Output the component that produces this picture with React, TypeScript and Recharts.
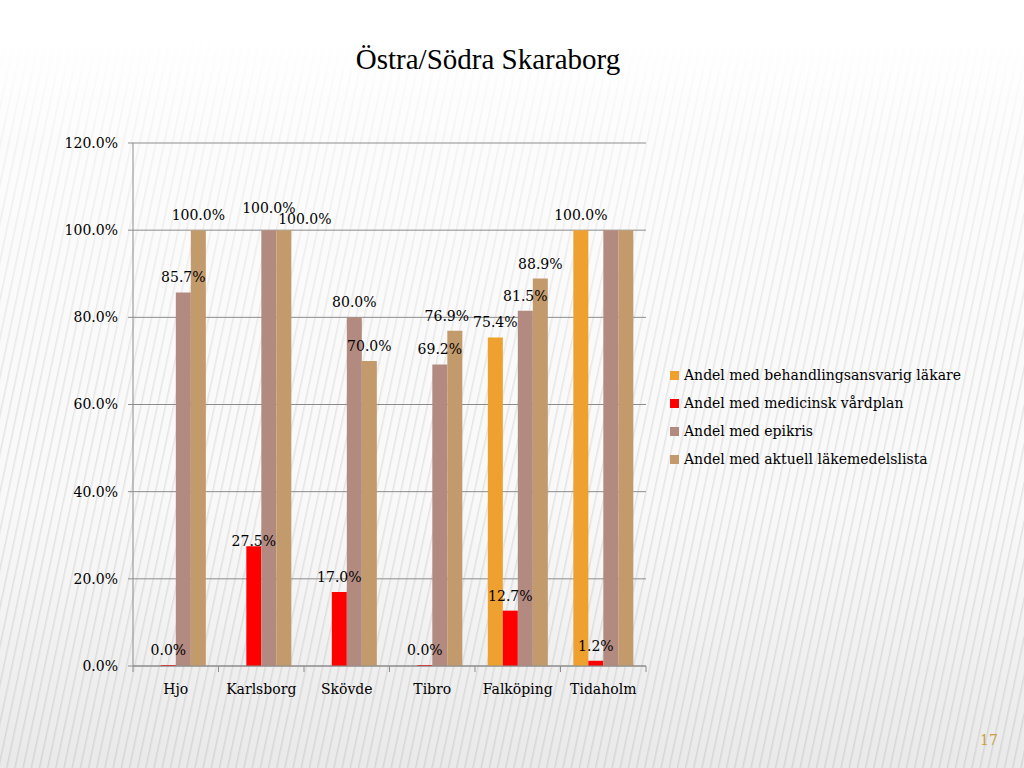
import React from 'react';
import { BarChart, Bar, XAxis, YAxis, CartesianGrid, LabelList } from 'recharts';

const categories = ['Hjo', 'Karlsborg', 'Skövde', 'Tibro', 'Falköping', 'Tidaholm'];
const behandlingsansvarig = [null, null, null, null, 75.4, 100.0];
const vardplan = [0.0, 27.5, 17.0, 0.0, 12.7, 1.2];
const epikris = [85.7, 100.0, 80.0, 69.2, 81.5, 100.0];
const lakemedelslista = [100.0, 100.0, 70.0, 76.9, 88.9, 100.0];
const yTicks = [0, 20, 40, 60, 80, 100, 120];

const SERIES = [
  { key: 'behandl', name: 'Andel med behandlingsansvarig läkare', color: '#EFA12F' },
  { key: 'vardplan', name: 'Andel med medicinsk vårdplan', color: '#FF0000' },
  { key: 'epikris', name: 'Andel med epikris', color: '#B38A80' },
  { key: 'lakemedel', name: 'Andel med aktuell läkemedelslista', color: '#C39A6B' },
];

// label nudges, like the hand-moved labels in the original slide
const LABEL_NUDGE: Record<string, { dx?: number; dy?: number; hide?: boolean }> = {
  'vardplan-1': { dy: 10 },
  'epikris-1': { dy: -7 },
  'lakemedel-1': { dx: 21, dy: 4 },
  'lakemedel-3': { dx: -8 },
  'behandl-4': { dx: -4 },
  'behandl-5': { dx: 21, dy: -2 },
  'epikris-5': { hide: true },
  'lakemedel-5': { hide: true },
};

const data = categories.map((c, i) => ({
  name: c,
  behandl: behandlingsansvarig[i],
  vardplan: vardplan[i],
  epikris: epikris[i],
  lakemedel: lakemedelslista[i],
}));

const FONT = '"DejaVu Serif", serif';
const TITLE_FONT = '"Liberation Serif", serif';
const FS = 14;
const W = 1024;
const H = 768;
const MARGIN = { top: 143, right: 378, bottom: 72, left: 0 };
const BAND = (W - 133 - MARGIN.right) / categories.length;

const fmt = (v: any) => (v == null ? '' : `${Number(v).toFixed(1)}%`);

const makeLabel = (seriesKey: string) => (props: any) => {
  const { x, y, width, value, index } = props;
  if (value == null) return null;
  const n = LABEL_NUDGE[`${seriesKey}-${index}`] || {};
  if (n.hide) return null;
  return (
    <text
      x={Number(x) + Number(width) / 2 + (n.dx || 0)}
      y={Number(y) - 10 + (n.dy || 0)}
      textAnchor="middle"
      fontFamily={FONT}
      fontSize={FS}
      fill="#000"
    >
      {fmt(value)}
    </text>
  );
};

const XTick = (props: any) => {
  const { x, y, payload, index } = props;
  return (
    <g>
      <line x1={x - BAND / 2} y1={y - 8} x2={x - BAND / 2} y2={y - 2} stroke="#8c8c8c" />
      {index === categories.length - 1 && (
        <line x1={x + BAND / 2} y1={y - 8} x2={x + BAND / 2} y2={y - 2} stroke="#8c8c8c" />
      )}
      <text x={x} y={y + 20} textAnchor="middle" fontFamily={FONT} fontSize={FS} fill="#000">
        {payload.value}
      </text>
    </g>
  );
};

export default function App() {
  const bg =
    'linear-gradient(to bottom, #ffffff 0px, #ffffff 40px, rgba(255,255,255,0.55) 140px, rgba(255,255,255,0.1) 400px, rgba(255,255,255,0) 768px), ' +
    'linear-gradient(to bottom, rgba(0,0,0,0) 0px, rgba(0,0,0,0) 500px, rgba(120,120,120,0.12) 768px), ' +
    'repeating-linear-gradient(102deg, #f9f9f9 0px, #f9f9f9 5px, #e2e2e2 6px, #f9f9f9 8px)';
  return (
    <div style={{ position: 'absolute', left: 0, top: 0, width: W, height: H, background: bg, overflow: 'hidden' }}>
      <div
        style={{
          position: 'absolute',
          top: 43,
          left: 0,
          width: W,
          textAlign: 'center',
          fontFamily: TITLE_FONT,
          fontSize: 29,
          color: '#000',
        }}
      >
        <span style={{ position: 'relative', left: -24 }}>Östra/Södra Skaraborg</span>
      </div>
      <BarChart
        width={W}
        height={H}
        data={data}
        margin={MARGIN}
        barCategoryGap="15%"
        barGap={0}
        style={{ position: 'absolute', left: 0, top: 0 }}
      >
        <CartesianGrid vertical={false} stroke="#8c8c8c" strokeWidth={1} />
        <XAxis
          dataKey="name"
          axisLine={{ stroke: '#8c8c8c' }}
          tickLine={false}
          tick={<XTick />}
          interval={0}
          height={30}
        />
        <YAxis
          domain={[0, 120]}
          ticks={yTicks}
          tickFormatter={(v) => `${Number(v).toFixed(1)}%`}
          axisLine={{ stroke: '#8c8c8c' }}
          tickLine={{ stroke: '#8c8c8c' }}
          tickSize={5}
          tickMargin={10}
          width={133}
          tick={{ fontFamily: FONT, fontSize: FS, fill: '#000' }}
        />
        {SERIES.map((s) => (
          <Bar
            key={s.key}
            dataKey={s.key}
            name={s.name}
            fill={s.color}
            isAnimationActive={false}
            minPointSize={(v: any) => (v === 0 ? 1 : 0)}
          >
            <LabelList dataKey={s.key} content={makeLabel(s.key)} />
          </Bar>
        ))}
      </BarChart>
      <div style={{ position: 'absolute', left: 670, top: 361, fontFamily: FONT, fontSize: FS, color: '#000' }}>
        {SERIES.map((s) => (
          <div key={s.key} style={{ display: 'flex', alignItems: 'center', height: 28 }}>
            <span style={{ width: 9, height: 9, background: s.color, marginRight: 5, display: 'inline-block' }} />
            <span>{s.name}</span>
          </div>
        ))}
      </div>
      <div style={{ position: 'absolute', left: 980, top: 732, fontFamily: FONT, fontSize: 14, color: '#C8A040' }}>17</div>
    </div>
  );
}
